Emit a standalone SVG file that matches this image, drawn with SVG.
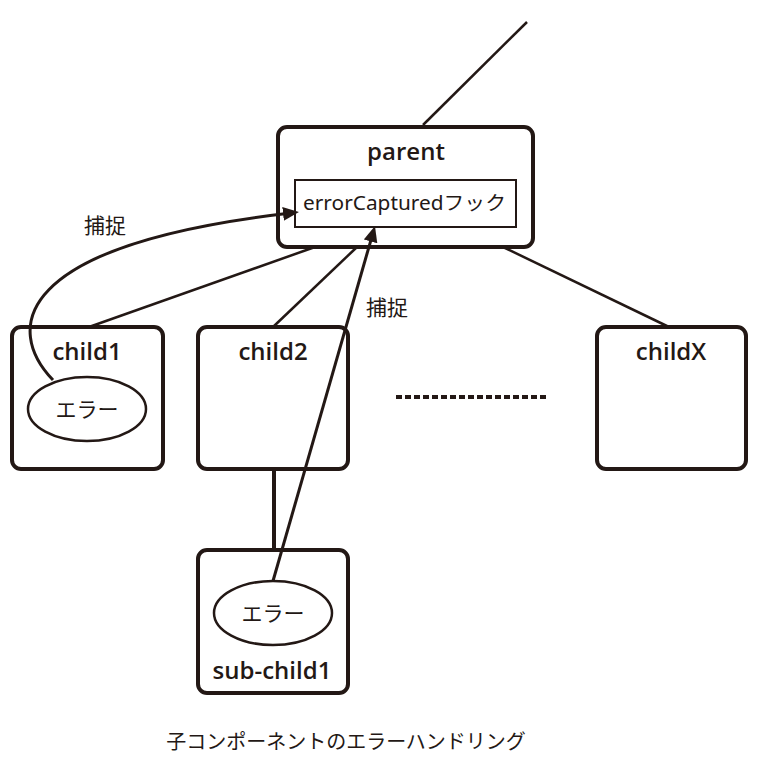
<svg xmlns="http://www.w3.org/2000/svg" width="766" height="766" viewBox="0 0 766 766">
<defs>
<style>
.box{fill:#fff;stroke:#231815;stroke-width:4}
.inner{fill:#fff;stroke:#231815;stroke-width:2}
.ell{fill:#fff;stroke:#231815;stroke-width:2.5}
.conn{fill:none;stroke:#231815;stroke-width:2.5}
.arr{fill:none;stroke:#231815;stroke-width:3;marker-end:url(#ah)}
.title{font-family:"Open Sans","Noto Sans","Noto Sans CJK JP",sans-serif;font-weight:600;font-size:24px;fill:#231815;text-anchor:middle}
.lbl{font-family:"Noto Sans","Noto Sans CJK JP",sans-serif;font-size:20px;fill:#231815}
</style>
<marker id="ah" markerUnits="userSpaceOnUse" markerWidth="18" markerHeight="16" refX="10" refY="7" orient="auto">
<path d="M0,0 L16,7 L0,14 z" fill="#231815"/>
</marker>
</defs>
<rect width="766" height="766" fill="#fff"/>
<g id="connectors">
<line class="conn" x1="423" y1="125" x2="527" y2="22"/>
<line class="conn" x1="315" y1="247" x2="89" y2="327"/>
<line class="conn" x1="357" y1="247" x2="273" y2="327"/>
<line class="conn" x1="503" y1="247" x2="669" y2="327"/>
<line class="conn" x1="274" y1="469" x2="274" y2="550" style="stroke-width:4"/>
<line class="conn" x1="396" y1="397" x2="548" y2="397" style="stroke-width:4;stroke-dasharray:6 3"/>
</g>
<g id="parent">
<rect class="box" x="278" y="127" width="255" height="120" rx="9"/>
<text class="title" x="406" y="160">parent</text>
<rect class="inner" x="295" y="180" width="221" height="47"/>
<text class="lbl" x="303" y="210" style="font-size:19px" textLength="203" lengthAdjust="spacingAndGlyphs">errorCapturedフック</text>
</g>
<g id="child1">
<rect class="box" x="12" y="327" width="151" height="142" rx="9"/>
<text class="title" x="87" y="360">child1</text>
<ellipse class="ell" cx="87" cy="409" rx="59" ry="32"/>
<text class="lbl" x="87" y="417" text-anchor="middle" style="font-size:21px">エラー</text>
</g>
<g id="child2">
<rect class="box" x="198" y="327" width="150" height="142" rx="9"/>
<text class="title" x="273" y="360">child2</text>
</g>
<g id="childX">
<rect class="box" x="597" y="327" width="149" height="142" rx="9"/>
<text class="title" x="671" y="360">childX</text>
</g>
<g id="sub-child1">
<rect class="box" x="198" y="550" width="150" height="143" rx="9"/>
<ellipse class="ell" cx="273" cy="613" rx="59" ry="32"/>
<text class="lbl" x="273" y="621" text-anchor="middle" style="font-size:21px">エラー</text>
<text class="title" x="272" y="679">sub-child1</text>
</g>
<g id="arrows">
<path class="arr" d="M53,380 C5,330 10,245 293,212.7"/>
<line class="arr" x1="273" y1="581" x2="373.3" y2="231.8"/>
<text class="lbl" x="84" y="233" style="font-size:21px">捕捉</text>
<text class="lbl" x="366" y="315" style="font-size:21px">捕捉</text>
</g>
<text class="lbl" x="346" y="749" text-anchor="middle">子コンポーネントのエラーハンドリング</text>
</svg>
